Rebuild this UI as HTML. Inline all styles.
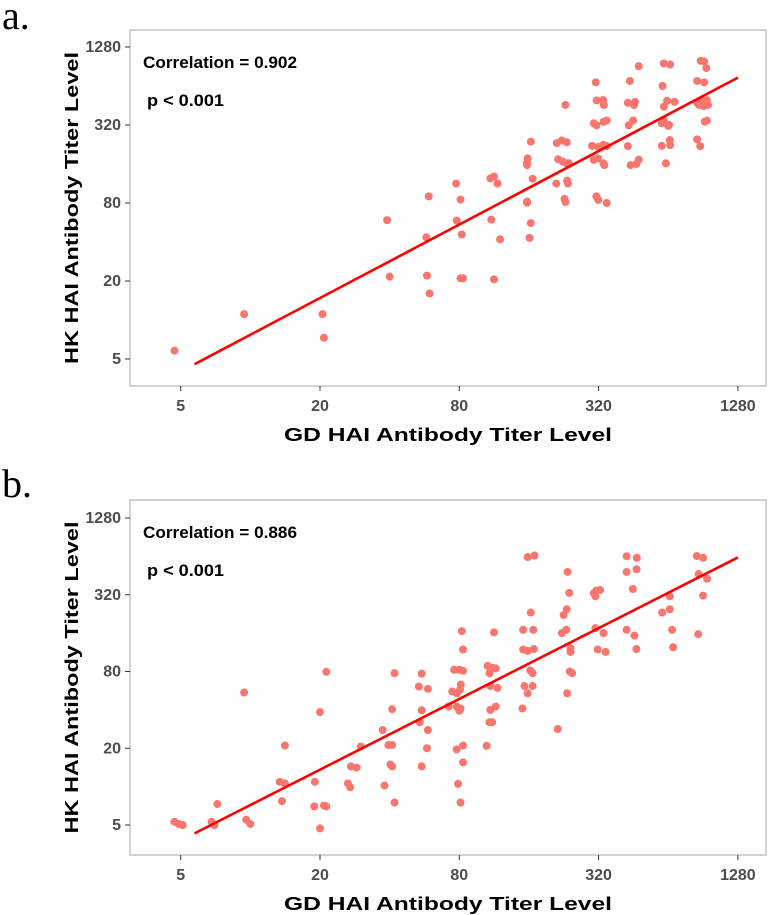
<!DOCTYPE html>
<html><head><meta charset="utf-8"><style>
html,body{margin:0;padding:0;background:#fff;}
body{width:769px;height:915px;overflow:hidden;position:relative;font-family:"Liberation Sans",sans-serif;}
.lab{position:absolute;font-family:"Liberation Serif",serif;font-size:40px;color:#000;}
</style></head><body>
<div class="lab" style="left:2px;top:-8px;">a.</div>
<div class="lab" style="left:2px;top:460px;">b.</div>
<svg id="chart" width="769" height="915" style="position:absolute;left:0;top:0"></svg>
<script>
const xTicks=[5,20,80,320,1280];
const yTicks=[5,20,80,320,1280];
const aX=[4.7,9.4,20.5,20.8,39,40,58,59.5,57.6,59,77.5,81,78,82,81,83,113,110,120,109,113,117,157,157,158,163,166,157,157,163,161,210,228,230,211,222,233,214,224,233,238,234,236,230,311,314,335,337,305,313,336,347,300,320,336,347,305,318,336,339,313,319,347,437,477,428,455,460,451,432,428,440,466,477,612,652,605,613,633,682,613,645,640,600,650,652,600,625,884,915,935,853,915,853,890,905,940,870,910,950,920,940,853,880];
const aY=[5.8,11.1,11.1,7.3,59,21.6,22,16,43.5,90,113,85,58.5,45.7,21,21,20.6,59.5,42,124,128,113,164,157,177,238,123,80.5,82,56,43,113,86,81.4,232,243,235,174,167,162,162,119,113,457,683,495,498,457,330,318,339,346,221,217,225,220,172,177,162,157,90,84.5,80,700,911,475,457,483,347,318,220,157,160,173,956,937,640,444,492,483,350,320,315,330,245,224,221,162,1000,990,880,700,683,475,465,488,498,457,449,457,340,346,248,220];
const bX=[4.7,4.9,5.1,6.8,7.0,7.2,9.6,10,9.4,13.4,14.1,13.7,14.1,19,18.9,20.8,21.3,20,20,21.3,27.2,28.8,26.4,27,30,38,42,37.3,39.5,41,40.3,41,41,42,53.5,58.5,55,55,54,58.5,58,55,74.5,78,80.6,81.2,76,80,83,72,78,81,80,78,83,83,79,81,82,83,105,108,111,109,115,117,109,108,111,106,115,113,150,158,153,166,162,166,151,158,168,151,167,163,158,169,213,234,246,240,242,242,222,232,226,233,239,235,317,343,310,336,305,313,325,310,423,457,466,423,467,450,423,468,602,650,665,672,650,850,905,866,942,905,862];
const bY=[5.3,5.1,5.0,5.3,5.0,7.3,5.5,5.1,54.7,10.9,10.6,7.7,21,10.9,7,7.1,7,4.7,38.4,79.5,14.4,14.1,10.6,9.9,20.6,10.2,7.5,27.8,21.2,21.2,14.9,14.4,40.5,77.6,61,58.5,77,39.7,32,27.8,20,14.4,55.7,54,57.6,63.2,82.5,82.5,81,42.5,42.5,41,39.4,19.6,21,15.5,10.5,7.5,166,119,20.9,32,32,40,42.5,59.5,61.6,77.6,85.8,88.5,84.6,162,41,54,61.5,61.5,81.6,77.6,119,116,120,170,170,232,632,650,28.3,54,77.6,80,114,122,160,170,222,246,331,483,119,114,175,160,329,345,349,311,170,153,120,483,507,355,642,624,232,246,170,124,311,644,624,465,427,315,157];
const lineA=[[5.74,4.56],[1280,743]];
const lineB=[[5.74,4.3],[1280,628]];

const svg=document.getElementById('chart');
const NS='http://www.w3.org/2000/svg';
function mk(tag,attrs,parent){const e=document.createElementNS(NS,tag);for(const k in attrs)e.setAttribute(k,attrs[k]);(parent||svg).appendChild(e);return e;}

function panel(id,top,bottom,y5,y1280,xs,ys,line,corr){
  const left=130,right=766;
  const xS=v=>180.7+69.65*Math.log2(v/5);
  const yS=v=>y5-(y5-y1280)/8*Math.log2(v/5);
  const g=mk('g',{});
  
  
  const box=mk('rect',{x:left,y:top,width:right-left,height:bottom-top,fill:'#fff',stroke:'#b3b3b3','stroke-width':1.2},g);
  
  
  xTicks.forEach(t=>{
    const x=xS(t);
    const tk=mk('line',{x1:x,x2:x,y1:bottom,y2:bottom+5,stroke:'#333','stroke-width':1},g);
    
    
    const tx=mk('text',{x:x,y:bottom+25,'text-anchor':'middle','font-size':16,'font-weight':'bold',fill:'#4d4d4d'},g);
    tx.textContent=t;
    
    
  });
  yTicks.forEach(t=>{
    const y=yS(t);
    const tk=mk('line',{x1:left-5,x2:left,y1:y,y2:y,stroke:'#333','stroke-width':1},g);
    
    
    const tx=mk('text',{x:left-9,y:y+5,'text-anchor':'end','font-size':16,'font-weight':'bold',fill:'#4d4d4d'},g);
    tx.textContent=t;
    
    
  });
  xs.forEach((v,i)=>{
    const c=mk('circle',{cx:xS(v),cy:yS(ys[i]),r:4,fill:'#F8766D'},g);
    
    
  });
  const l=mk('line',{x1:xS(line[0][0]),y1:yS(line[0][1]),x2:xS(line[1][0]),y2:yS(line[1][1]),stroke:'#f00','stroke-width':2.6},g);
  
  
  const c1=mk('text',{x:143,y:top+38,'font-size':17,'font-weight':'bold',fill:'#000',textLength:154,lengthAdjust:'spacingAndGlyphs'},g);
  c1.textContent='Correlation = '+corr;
  
  
  const c2=mk('text',{x:147,y:top+76,'font-size':17,'font-weight':'bold',fill:'#000',textLength:77,lengthAdjust:'spacingAndGlyphs'},g);
  c2.textContent='p < 0.001';
  
  
  const xt=mk('text',{x:448,y:bottom+55,'text-anchor':'middle','font-size':18,'font-weight':'bold',fill:'#000',textLength:328,lengthAdjust:'spacingAndGlyphs'},g);
  xt.textContent='GD HAI Antibody Titer Level';
  
  
  const cy=(top+bottom)/2;
  const yt=mk('text',{x:0,y:0,'text-anchor':'middle','font-size':18,'font-weight':'bold',fill:'#000',transform:'translate(78,'+cy+') rotate(-90)',textLength:312,lengthAdjust:'spacingAndGlyphs'},g);
  yt.textContent='HK HAI Antibody Titer Level';
  
  
}
panel('a',30,386,359,47,aX,aY,lineA,'0.902');
panel('b',500,855,825,518,bX,bY,lineB,'0.886');
</script>
</body></html>
